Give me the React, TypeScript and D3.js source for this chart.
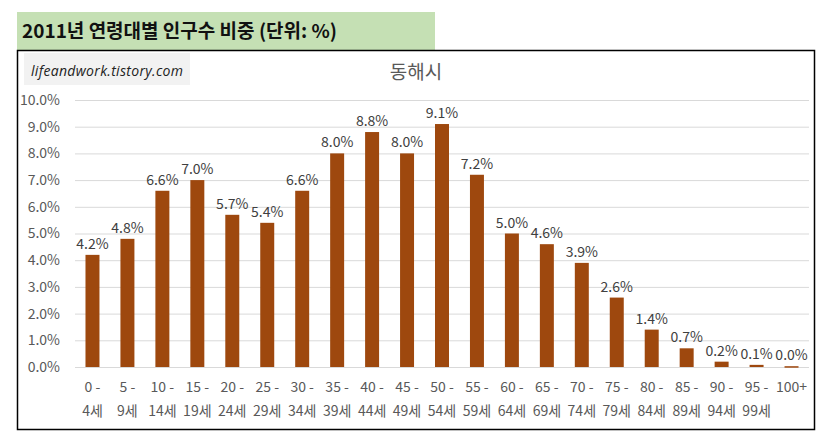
import * as d3 from 'd3';
import { useEffect, useRef } from 'react';

const ageStart = ['0 -', '5 -', '10 -', '15 -', '20 -', '25 -', '30 -', '35 -', '40 -', '45 -', '50 -', '55 -', '60 -', '65 -', '70 -', '75 -', '80 -', '85 -', '90 -', '95 -', '100+'];
const ageEnd = ['4세', '9세', '14세', '19세', '24세', '29세', '34세', '39세', '44세', '49세', '54세', '59세', '64세', '69세', '74세', '79세', '84세', '89세', '94세', '99세', ''];
const shares = [4.2, 4.8, 6.6, 7.0, 5.7, 5.4, 6.6, 8.0, 8.8, 8.0, 9.1, 7.2, 5.0, 4.6, 3.9, 2.6, 1.4, 0.7, 0.2, 0.08, 0.03];
const yTicks = [0, 1, 2, 3, 4, 5, 6, 7, 8, 9, 10];

const FONT = "'Noto Sans CJK KR', 'Noto Sans', sans-serif";

export default function App() {
  const svgRef = useRef<SVGSVGElement | null>(null);

  useEffect(() => {
    if (!svgRef.current) return;
    const svg = d3.select(svgRef.current);
    svg.selectAll('*').remove();

    // header band
    svg.append('rect').attr('x', 17).attr('y', 12).attr('width', 418).attr('height', 38).attr('fill', '#c5e0b4');
    svg
      .append('text')
      .attr('x', 22)
      .attr('y', 38)
      .attr('font-family', FONT)
      .attr('font-size', 19)
      .attr('font-weight', 'bold')
      .attr('fill', '#111')
      .text('2011년 연령대별 인구수 비중 (단위: %)');

    // chart frame
    svg.append('rect').attr('x', 17.5).attr('y', 50.5).attr('width', 797).attr('height', 379).attr('fill', '#fff').attr('stroke', '#000').attr('stroke-width', 1.5);

    // watermark
    svg.append('rect').attr('x', 24).attr('y', 53).attr('width', 166).attr('height', 32).attr('fill', '#f2f2f2');
    svg
      .append('text')
      .attr('x', 31)
      .attr('y', 76)
      .attr('font-family', "'Open Sans', sans-serif")
      .attr('font-style', 'italic')
      .attr('font-size', 14)
      .attr('fill', '#222')
      .attr('textLength', 152)
      .text('lifeandwork.tistory.com');

    svg
      .append('text')
      .attr('x', 416)
      .attr('y', 79)
      .attr('text-anchor', 'middle')
      .attr('font-family', FONT)
      .attr('font-size', 19)
      .attr('fill', '#595959')
      .text('동해시');

    const x = d3.scaleBand<number>().domain(d3.range(shares.length)).range([75, 809]).paddingInner(0.6).paddingOuter(0.3);
    const y = d3.scaleLinear().domain([0, 10]).range([367, 100]);

    const grid = svg.append('g');
    grid
      .selectAll('line')
      .data(yTicks)
      .enter()
      .append('line')
      .attr('x1', 75)
      .attr('x2', 809)
      .attr('y1', (d) => y(d) + 0.5)
      .attr('y2', (d) => y(d) + 0.5)
      .attr('stroke', '#d9d9d9')
      .attr('stroke-width', 1);

    const yAxis = svg
      .append('g')
      .attr('transform', 'translate(60,0)')
      .call(d3.axisLeft(y).tickValues(yTicks).tickSize(0).tickPadding(0).tickFormat((d) => `${(+d).toFixed(1)}%`));
    yAxis.select('.domain').remove();
    yAxis.selectAll('text').attr('font-family', FONT).attr('font-size', 14).attr('fill', '#595959');

    svg
      .append('g')
      .selectAll('rect')
      .data(shares)
      .enter()
      .append('rect')
      .attr('x', (_, i) => x(i) as number)
      .attr('y', (d) => y(d))
      .attr('width', x.bandwidth())
      .attr('height', (d) => Math.max(1.5, y(0) - y(d)))
      .attr('fill', '#9e480e');

    svg
      .append('g')
      .selectAll('text')
      .data(shares)
      .enter()
      .append('text')
      .attr('x', (_, i) => (x(i) as number) + x.bandwidth() / 2)
      .attr('y', (d) => Math.min(y(d), y(0) - 1.5) - 6)
      .attr('text-anchor', 'middle')
      .attr('font-family', FONT)
      .attr('font-size', 14)
      .attr('fill', '#404040')
      .text((d) => `${d.toFixed(1)}%`);

    const xl = svg.append('g').attr('font-family', FONT).attr('font-size', 14).attr('fill', '#595959').attr('text-anchor', 'middle');
    ageStart.forEach((s, i) => {
      const cx = (x(i) as number) + x.bandwidth() / 2;
      xl.append('text').attr('x', cx).attr('y', 392).text(s);
      if (ageEnd[i]) xl.append('text').attr('x', cx).attr('y', 416).text(ageEnd[i]);
    });
  }, []);

  return <svg ref={svgRef} width={824} height={439} style={{ position: 'absolute', left: 0, top: 0 }} />;
}
